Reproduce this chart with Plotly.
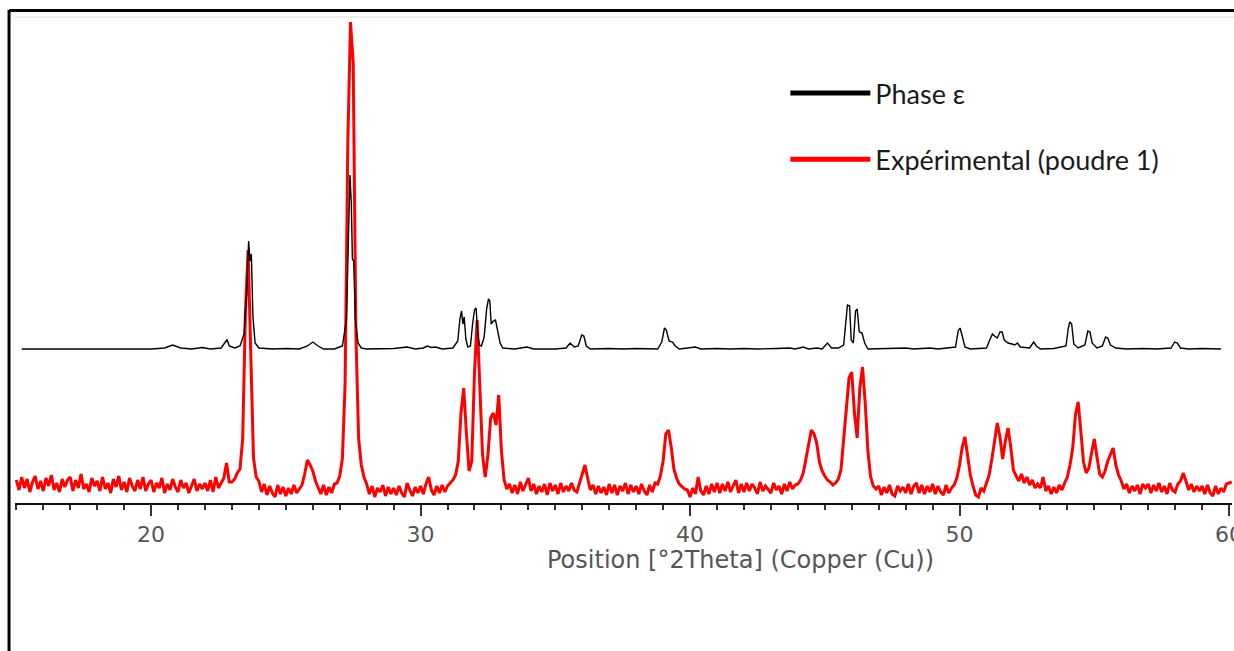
import numpy as np
import plotly.graph_objects as go

# --- Experimental powder pattern (poudre 1), Cu K-alpha, 0.1 deg step -------
scan_start = 15.0
scan_step = 0.1
exp_counts = [
    # 15.x
    230, 130, 260, 150, 240, 110, 210, 270, 140, 220,
    # 16.x
    120, 250, 170, 280, 130, 200, 110, 240, 160, 230,
    # 17.x
    260, 120, 230, 150, 290, 140, 190, 110, 250, 170,
    # 18.x
    220, 120, 260, 140, 200, 100, 240, 160, 270, 130,
    # 19.x
    210, 110, 250, 170, 120, 230, 140, 260, 120, 190,
    # 20.x
    230, 110, 200, 150, 250, 100, 190, 130, 240, 160,
    # 21.x
    110, 230, 150, 200, 100, 180, 240, 120, 190, 140,
    # 22.x
    200, 120, 230, 110, 260, 150, 200, 250, 400, 210,
    # 23.x
    210, 240, 300, 340, 650, 1900, 2530, 1350, 450, 260,
    # 24.x
    220, 110, 190, 80, 170, 100, 60, 180, 90, 160,
    # 25.x
    70, 150, 90, 180, 100, 140, 180, 290, 430, 380,
    # 26.x
    320, 220, 150, 90, 180, 80, 160, 100, 190, 200,
    # 27.x
    270, 450, 1200, 3600, 4810, 4400, 1700, 650, 380, 260,
    # 28.x
    190, 90, 170, 60, 150, 110, 180, 70, 160, 90,
    # 29.x
    150, 80, 170, 100, 60, 200, 130, 70, 160, 100,
    # 30.x
    170, 90, 190, 260, 130, 80, 170, 100, 180, 110,
    # 31.x
    170, 200, 230, 280, 420, 900, 1150, 700, 320, 420,
    # 32.x
    1300, 1830, 1100, 480, 260, 480, 850, 900, 780, 1080,
    # 33.x
    520, 230, 140, 190, 100, 180, 90, 210, 120, 180,
    # 34.x
    250, 120, 190, 90, 170, 110, 190, 80, 200, 120,
    # 35.x
    180, 90, 200, 110, 170, 120, 200, 130, 110, 200,
    # 36.x
    300, 380, 250, 130, 180, 90, 170, 100, 160, 80,
    # 37.x
    190, 100, 180, 80, 170, 120, 200, 90, 180, 110,
    # 38.x
    170, 90, 190, 120, 80, 180, 110, 200, 190, 270,
    # 39.x
    420, 690, 730, 560, 340, 250, 190, 160, 140, 130,
    # 40.x
    60, 150, 90, 260, 120, 80, 170, 90, 190, 110,
    # 41.x
    200, 100, 190, 120, 210, 110, 180, 230, 100, 190,
    # 42.x
    110, 200, 120, 190, 150, 90, 210, 120, 170, 130,
    # 43.x
    100, 200, 130, 170, 90, 190, 120, 210, 140, 180,
    # 44.x
    190, 230, 300, 440, 590, 730, 690, 600, 410, 320,
    # 45.x
    270, 230, 210, 180, 200, 240, 330, 620, 950, 1250,
    # 46.x
    1310, 900, 650, 1150, 1360, 1000, 520, 260, 170, 140,
    # 47.x
    170, 80, 160, 100, 180, 90, 70, 170, 120, 160,
    # 48.x
    100, 190, 90, 170, 200, 100, 180, 90, 170, 110,
    # 49.x
    190, 90, 170, 110, 80, 180, 100, 150, 180, 250,
    # 50.x
    380, 560, 660, 490, 280, 170, 80, 60, 150, 120,
    # 51.x
    190, 280, 440, 600, 800, 660, 440, 620, 750, 560,
    # 52.x
    330, 270, 220, 290, 200, 260, 180, 230, 150, 190,
    # 53.x
    150, 260, 120, 170, 90, 160, 100, 180, 130, 200,
    # 54.x
    260, 380, 550, 880, 1010, 720, 410, 300, 350, 500,
    # 55.x
    640, 460, 290, 260, 320, 420, 480, 550, 380, 280,
    # 56.x
    220, 140, 190, 100, 170, 120, 180, 90, 190, 150,
    # 57.x
    190, 100, 180, 120, 200, 110, 170, 90, 200, 130,
    # 58.x
    110, 190, 220, 300, 220, 130, 190, 110, 170, 120,
    # 59.x
    170, 90, 180, 100, 70, 170, 90, 150, 110, 190,
    # 60.x
    200, 210,
]
exp_2theta = np.round(scan_start + scan_step * np.arange(len(exp_counts)), 2)

# --- Calculated pattern of phase epsilon -----------------------------------
calc_2theta = [
    15.2, 16.0, 16.5, 17.0, 17.4, 17.8, 18.5, 19.0, 19.5, 20.0,
    20.5, 20.8, 21.1, 21.5, 21.9, 22.2, 22.6, 22.75, 22.82, 22.9,
    23.1, 23.3, 23.45, 23.55, 23.62, 23.67, 23.72, 23.78, 23.86, 24.0,
    24.5, 25.0, 25.5, 25.8, 26.0, 26.2, 26.4, 26.8, 27.1, 27.25,
    27.33, 27.38, 27.43, 27.47, 27.52, 27.58, 27.68, 27.8, 28.0, 28.5,
    29.0, 29.5, 29.8, 30.1, 30.25, 30.4, 30.55, 30.8, 31.2, 31.38,
    31.46, 31.52, 31.57, 31.62, 31.68, 31.75, 31.85, 31.93, 32.0, 32.06,
    32.12, 32.18, 32.26, 32.36, 32.45, 32.52, 32.57, 32.62, 32.7, 32.78,
    32.85, 32.95, 33.05, 33.5, 33.95, 34.2, 35.0, 35.4, 35.55, 35.7,
    35.85, 35.98, 36.06, 36.15, 36.3, 37.0, 37.5, 38.0, 38.8, 38.95,
    39.05, 39.12, 39.22, 39.35, 39.45, 39.6, 40.2, 40.4, 41.0, 41.5,
    42.0, 42.5, 43.2, 43.7, 43.9, 44.2, 44.4, 44.7, 44.9, 45.1,
    45.25, 45.5, 45.7, 45.78, 45.84, 45.92, 45.98, 46.06, 46.14, 46.2,
    46.28, 46.38, 46.48, 46.6, 47.5, 48.0, 48.3, 48.9, 49.2, 49.85,
    49.95, 50.02, 50.1, 50.2, 50.4, 51.0, 51.12, 51.22, 51.3, 51.4,
    51.5, 51.58, 51.66, 51.8, 51.95, 52.05, 52.15, 52.25, 52.6, 52.75,
    52.85, 53.0, 53.5, 53.95, 54.03, 54.09, 54.16, 54.24, 54.4, 54.65,
    54.76, 54.84, 54.92, 55.1, 55.3, 55.42, 55.5, 55.6, 55.8, 56.2,
    56.8, 57.3, 57.85, 57.98, 58.08, 58.2, 58.5, 59.0, 59.7,
]
calc_counts = [
    0, 0, 5, 0, 5, 0, 5, 0, 5, 0,
    10, 40, 10, 0, 15, 0, 10, 70, 95, 30,
    10, 30, 150, 600, 1080, 880, 950, 320, 60, 10,
    0, 5, 0, 30, 70, 30, 0, 0, 30, 300,
    1400, 1740, 1450, 900, 880, 300, 60, 10, 0, 0,
    5, 20, 0, 10, 30, 15, 20, 0, 10, 80,
    300, 380, 250, 320, 100, 20, 30, 250, 390, 410,
    150, 40, 30, 120, 400, 500, 480, 250, 280, 290,
    200, 60, 10, 0, 20, 0, 0, 10, 60, 20,
    30, 140, 130, 30, 0, 5, 0, 5, 0, 70,
    210, 190, 80, 70, 30, 0, 20, 0, 5, 0,
    5, 0, 5, 10, 0, 20, 0, 10, 0, 60,
    10, 10, 40, 300, 440, 430, 90, 60, 380, 400,
    170, 160, 60, 0, 5, 10, 0, 10, 0, 20,
    180, 210, 130, 20, 0, 10, 90, 150, 130, 110,
    170, 170, 90, 60, 50, 40, 60, 20, 10, 70,
    30, 0, 5, 30, 200, 270, 250, 50, 10, 40,
    180, 170, 60, 10, 30, 120, 110, 40, 10, 0,
    5, 0, 10, 70, 60, 10, 0, 5, 0,
]
calc_offset = 1540  # vertical stacking offset of the calculated pattern

series_names = ["Phase ε", "Expérimental (poudre 1)"]
series_colors = ["#000000", "#ff0000"]

fig = go.Figure()

fig.add_trace(go.Scatter(
    x=exp_2theta, y=exp_counts, mode="lines",
    line=dict(color=series_colors[1], width=3),
    showlegend=False, hoverinfo="x+y",
))
fig.add_trace(go.Scatter(
    x=calc_2theta, y=np.array(calc_counts) + calc_offset, mode="lines",
    line=dict(color=series_colors[0], width=1.4),
    showlegend=False, hoverinfo="x+y",
))

# legend entries with thick sample lines
for i, (name, color) in enumerate(zip(series_names, series_colors)):
    fig.add_trace(go.Scatter(
        x=[None], y=[None], mode="lines", name=name,
        line=dict(color=color, width=5),
        legendgroup=f"g{i}", legendrank=i + 1,
    ))

fig.update_layout(
    width=1234, height=651,
    margin=dict(l=15, r=2, t=17, b=148, pad=0, autoexpand=False),
    paper_bgcolor="white", plot_bgcolor="white",
    showlegend=True,
    legend=dict(
        x=0.633, y=0.893, xanchor="left", yanchor="top",
        font=dict(family="Lato", size=27, color="#1a1a1a"),
        bgcolor="rgba(0,0,0,0)", borderwidth=0,
        itemwidth=80, tracegroupgap=28, traceorder="grouped",
    ),
    xaxis=dict(
        range=[14.95, 60.11], showgrid=False, zeroline=False, automargin=False,
        showline=True, linecolor="#111", linewidth=2,
        ticks="outside", ticklen=11, tickwidth=2, tickcolor="#333",
        tick0=0, dtick=10, ticklabeloverflow="allow",
        minor=dict(ticks="outside", dtick=1, ticklen=5, tickwidth=2, tickcolor="#333"),
        tickfont=dict(family="DejaVu Sans", size=22, color="#555"),
    ),
    yaxis=dict(range=[0, 4860], visible=False, fixedrange=True),
    annotations=[dict(
        text="Position [°2Theta] (Copper (Cu))",
        xref="paper", yref="paper", x=0.5965, y=-0.117,
        xanchor="center", yanchor="middle", showarrow=False,
        font=dict(family="DejaVu Sans", size=24, color="#555"),
    )],
    shapes=[
        # outer frame, left and top edges
        dict(type="line", xref="paper", yref="paper",
             x0=-0.0049, x1=-0.0049, y0=-0.31, y1=1.0144,
             line=dict(color="#000", width=3)),
        dict(type="line", xref="paper", yref="paper",
             x0=-0.0049, x1=1.01, y0=1.0134, y1=1.0134,
             line=dict(color="#000", width=3)),
        dict(type="line", xref="paper", yref="paper",
             x0=0, x1=1.01, y0=1.0, y1=1.0,
             line=dict(color="#eeeeee", width=2)),
    ],
)

fig.write_html("out.html")
